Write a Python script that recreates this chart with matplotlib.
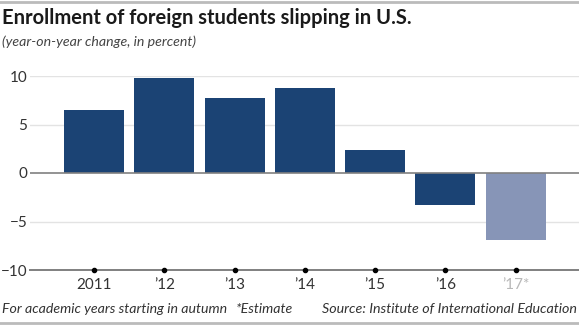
import matplotlib
matplotlib.use("Agg")
import matplotlib.pyplot as plt
from matplotlib.lines import Line2D

years = ["2011", "\u201912", "\u201913", "\u201914", "\u201915", "\u201916", "\u201917*"]
values = [6.5, 9.8, 7.7, 8.8, 2.4, -3.3, -6.9]
estimate = [False, False, False, False, False, False, True]
yticks = [10, 5, 0, -5, -10]
ytick_labels = ["10", "5", "0", "\u22125", "\u221210"]

plt.rcParams['font.family'] = ['Lato', 'DejaVu Sans']

W, H = 579, 326
fig = plt.figure(figsize=(W / 100, H / 100), dpi=100)
ax = fig.add_axes([30 / W, 1 - 270 / H, 1 - 30 / W, (270 - 76) / H])

dark = "#1b4374"
light = "#8795b7"
colors = [light if e else dark for e in estimate]
x = list(range(len(years)))
ax.bar(x, values, width=0.855, color=colors, zorder=3)

ax.set_ylim(-10, 10)
ax.set_xlim(-0.91, 6.9)
for v in [10, 5, -5]:
    ax.axhline(v, color="#e3e3e3", lw=1.0, zorder=1)
ax.axhline(0, color="#808080", lw=1.2, zorder=4)
ax.axhline(-10, color="#808080", lw=1.4, zorder=4, clip_on=False)

for s in ax.spines.values():
    s.set_visible(False)
ax.set_yticks(yticks)
ax.set_yticklabels(ytick_labels)
ax.tick_params(axis='y', length=0, pad=2, labelsize=11, labelcolor="#333333")
ax.set_xticks(x)
ax.set_xticklabels(years)
ax.tick_params(axis='x', length=0, pad=6, labelsize=11, labelcolor="#333333")
for lbl, e in zip(ax.get_xticklabels(), estimate):
    if e:
        lbl.set_color("#b8b8b8")
ax.plot(x, [-10] * len(x), 'o', color="black", ms=3, zorder=5, clip_on=False)

fig.text(2 / W, 1 - 18 / H, "Enrollment of foreign students slipping in U.S.",
         fontsize=14.5, fontweight='bold', color="#1a1a1a", va='center', ha='left')
fig.text(2 / W, 1 - 42 / H, "(year-on-year change, in percent)",
         fontsize=10.2, fontstyle='italic', color="#444444", va='center', ha='left')
fig.text(2 / W, 1 - 309 / H, "For academic years starting in autumn",
         fontsize=10.2, fontstyle='italic', color="#333333", va='center', ha='left')
fig.text(236 / W, 1 - 309 / H, "*Estimate",
         fontsize=10.2, fontstyle='italic', color="#333333", va='center', ha='left')
fig.text(577 / W, 1 - 309 / H, "Source: Institute of International Education",
         fontsize=10.3, fontstyle='italic', color="#333333", va='center', ha='right')

fig.add_artist(Line2D([0, 1], [1 - 2 / H, 1 - 2 / H], transform=fig.transFigure, color="#bbbbbb", lw=2))
fig.add_artist(Line2D([0, 1], [1 - 323 / H, 1 - 323 / H], transform=fig.transFigure, color="#bbbbbb", lw=2))

fig.savefig("out.png", dpi=100, facecolor="white")
